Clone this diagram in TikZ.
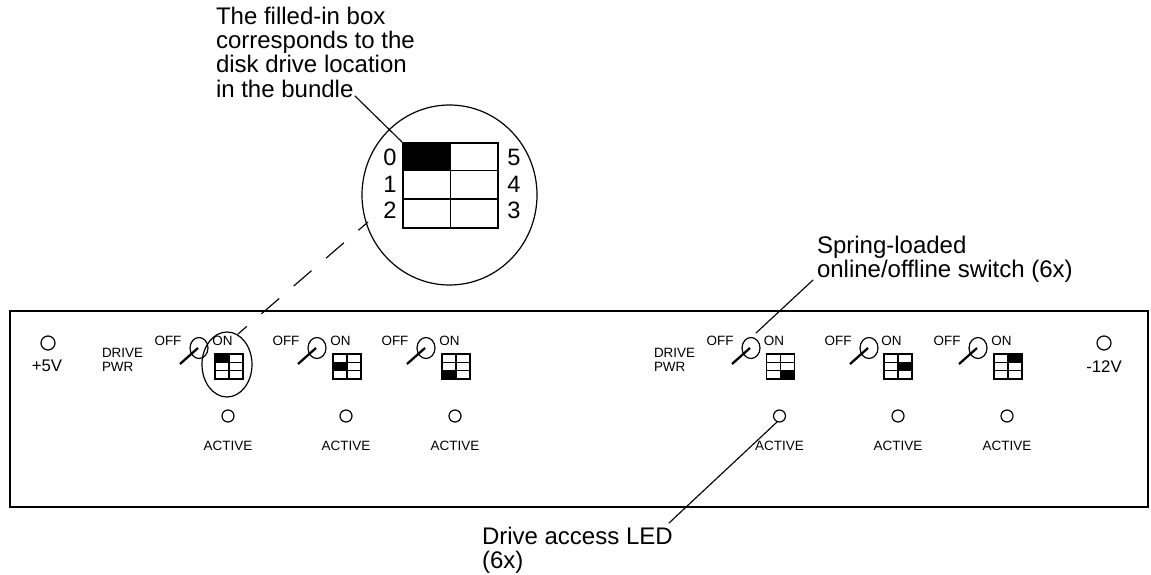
\documentclass[tikz,border=0pt]{standalone}
\usepackage{fontspec}
\setmainfont{Liberation Sans}
\newcommand{\bigfont}{\fontsize{18pt}{18.3pt}\selectfont}
\newcommand{\digitfont}{\fontsize{17.75pt}{18.2pt}\selectfont}
\newcommand{\midfont}{\fontsize{12.6pt}{15pt}\selectfont}
\newcommand{\smallfont}{\fontsize{10.1pt}{11pt}\selectfont}
\usetikzlibrary{shapes.geometric}
\tikzset{
  x=0.75pt,y=-0.75pt,
  lab/.style={inner sep=0pt,outer sep=0pt},
  biglab/.style={lab,font=\bigfont,align=left,anchor=north west},
  digit/.style={lab,font=\digitfont,anchor=base},
  smalllab/.style={lab,font=\smallfont,anchor=base},
  midlab/.style={lab,font=\midfont,anchor=base},
  leader/.style={line width=0.85pt,line cap=round},
  lamp/.style={circle,draw,line width=0.9pt,minimum size=9pt,inner sep=0pt},
  powerlamp/.style={lamp,minimum size=10.5pt},
  knob/.style={ellipse,draw,line width=0.9pt,minimum width=13.5pt,minimum height=15.75pt,inner sep=0pt},
  handle/.style={line width=1.7pt},
  cell/.style={line width=1.05pt},
  bigcell/.style={line width=1.2pt},
  dashline/.style={line width=0.85pt,dash pattern=on 17.6pt off 14.4pt,dash phase=8.8pt}
}
\begin{document}
\begin{tikzpicture}
\useasboundingbox (0,0) rectangle (1151,574);
\fill[white] (0,0) rectangle (1151,574);
% panel
\node[draw,line width=1.2pt,rectangle,minimum width=853.5pt,minimum height=147pt,inner sep=0pt,anchor=north west] (panel) at (9,310) {};
% power lamps
\node[powerlamp] (p5) at (48,343) {};
\node[midlab] (p5t) at (47,371) {+5V};
\node[powerlamp] (m12) at (1104,343) {};
\node[midlab] (m12t) at (1104,372) {-12V};
% drive pwr
\foreach \n/\x in {a/102,b/654}{
  \node[smalllab,anchor=base west] (drv\n) at (\x,357) {DRIVE};
  \node[smalllab,anchor=base west] (pwr\n) at (\x,371) {PWR};
}
% columns: index / knob x / grid x / led x / filled col / filled row
\foreach \i/\k/\g/\l/\fc/\fr in {1/199/229/228/0/0,2/317/347/346/0/1,3/426/456/455/0/2,4/751/780.5/779.5/1/2,5/869/898/898/1/1,6/978/1008/1007/1/0}{
  \node[smalllab] (off\i) at ({\k-31},345) {OFF};
  \node[smalllab] (on\i) at ({\g-6.5},345) {ON};
  \node[knob] (sw\i) at (\k,348) {};
  \coordinate (hnd\i) at ({\k-19},364);
  \draw[handle] (hnd\i) -- ({\k-1},348);
  \fill ({\g-14+14*\fc},{354+\fr*8.33}) rectangle ({\g+14*\fc},{354+(\fr+1)*8.33});
  \node[rectangle,draw,cell,minimum width=21pt,minimum height=18.75pt,inner sep=0pt] (grid\i) at (\g,366.5) {};
  \draw[cell] (grid\i.north) -- (grid\i.south);
  \draw[cell] ({\g-14},362.33) -- ({\g+14},362.33);
  \draw[cell] ({\g-14},370.67) -- ({\g+14},370.67);
  \node[lamp] (led\i) at (\l,416) {};
  \node[smalllab] (act\i) at (\l,450) {ACTIVE};
}
% magnifier ellipses
\node[ellipse,draw,line width=0.9pt,minimum width=37.5pt,minimum height=48.75pt,inner sep=0pt] (small) at (227,364.5) {};
\node[ellipse,draw,line width=0.9pt,minimum width=131.25pt,minimum height=135pt,inner sep=0pt] (big) at (449.5,195) {};
% big grid
\node[rectangle,fill=black,minimum width=35.6pt,minimum height=21.4pt,inner sep=0pt,anchor=north west] (fillcell) at (402,142) {};
\node[rectangle,draw,bigcell,minimum width=71.25pt,minimum height=63.75pt,inner sep=0pt,anchor=north west] (bgrid) at (402,142) {};
\draw[bigcell] (bgrid.north) -- (bgrid.south);
\coordinate (r1l) at (402,170.3); \coordinate (r1r) at (497,170.3);
\coordinate (r2l) at (402,198.7); \coordinate (r2r) at (497,198.7);
\draw[bigcell] (r1l) -- (r1r);
\draw[bigcell] (r2l) -- (r2r);
\node[digit] (d0) at (390,166) {0};
\node[digit] (d1) at (390,192) {1};
\node[digit] (d2) at (390,218) {2};
\node[digit] (d5) at (514,166) {5};
\node[digit] (d4) at (514,192) {4};
\node[digit] (d3) at (514,218) {3};
% labels
\node[biglab] (top) at (216,6.8) {The filled-in box\\corresponds to the\\disk drive location\\in the bundle};
\node[biglab] (spring) at (817,236) {Spring-loaded\\online/offline switch (6x)};
\node[biglab] (drive) at (482,527) {Drive access LED\\(6x)};
% leaders
\coordinate (ltop) at (355,96);
\coordinate (lsw) at (813,280);
\coordinate (lswe) at (756,333);
\coordinate (lled) at (669,523);
\coordinate (llede) at (777,422);
\coordinate (da) at (238,334);
\coordinate (db) at (368,222);
\draw[leader] (ltop) -- (bgrid.north west);
\draw[leader] (lsw) -- (lswe);
\draw[leader] (lled) -- (llede);
\draw[dashline] (da) -- (db);
\end{tikzpicture}
\end{document}
